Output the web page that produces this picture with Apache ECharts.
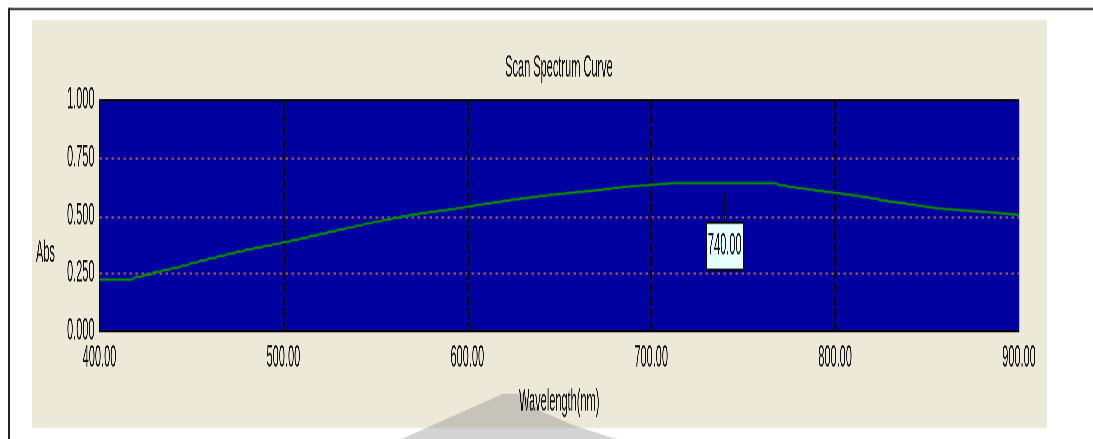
<!DOCTYPE html>
<html>
<head>
<meta charset="utf-8">
<title>Scan Spectrum Curve</title>
<script src="https://cdn.jsdelivr.net/npm/echarts@6/dist/echarts.min.js"></script>
<style>
  html, body { margin: 0; padding: 0; background: #ffffff; overflow: hidden; }
  #chart {
    position: absolute; left: 0; top: 0;
    width: 1093px;
    transform-origin: 0 0;
  }
</style>
</head>
<body>
<div id="chart"></div>
<script>
// Scanned wavelengths (nm) and measured absorbance
const WAVELENGTH_NM = [
  400, 405, 410, 415, 420, 425, 430, 435, 440, 445,
  450, 455, 460, 465, 470, 475, 480, 485, 490, 495,
  500, 505, 510, 515, 520, 525, 530, 535, 540, 545,
  550, 555, 560, 565, 570, 575, 580, 585, 590, 595,
  600, 605, 610, 615, 620, 625, 630, 635, 640, 645,
  650, 655, 660, 665, 670, 675, 680, 685, 690, 695,
  700, 705, 710, 715, 720, 725, 730, 735, 740, 745,
  750, 755, 760, 765, 770, 775, 780, 785, 790, 795,
  800, 805, 810, 815, 820, 825, 830, 835, 840, 845,
  850, 855, 860, 865, 870, 875, 880, 885, 890, 895,
  900
];
const ABSORBANCE = [
  0.224, 0.224, 0.224, 0.224, 0.236, 0.245, 0.256, 0.265, 0.274, 0.285,
  0.296, 0.306, 0.316, 0.326, 0.336, 0.345, 0.354, 0.362, 0.370, 0.378,
  0.386, 0.395, 0.404, 0.413, 0.422, 0.431, 0.440, 0.449, 0.458, 0.467,
  0.475, 0.483, 0.491, 0.498, 0.505, 0.511, 0.517, 0.522, 0.528, 0.534,
  0.540, 0.547, 0.553, 0.559, 0.565, 0.571, 0.576, 0.581, 0.586, 0.591,
  0.595, 0.599, 0.603, 0.607, 0.611, 0.616, 0.621, 0.625, 0.628, 0.631,
  0.634, 0.638, 0.641, 0.641, 0.641, 0.641, 0.641, 0.641, 0.641, 0.641,
  0.641, 0.641, 0.641, 0.641, 0.631, 0.624, 0.619, 0.614, 0.608, 0.603,
  0.598, 0.592, 0.587, 0.581, 0.574, 0.566, 0.560, 0.555, 0.549, 0.543,
  0.537, 0.532, 0.528, 0.525, 0.522, 0.519, 0.516, 0.513, 0.509, 0.506,
  0.503
];
// Cursor marker placed on the curve
const MARKER_NM = 740;
const MARKER_ABS = 0.641;

// Axis ranges
const X_MIN = 400, X_MAX = 900, X_STEP = 100;
const Y_MIN = 0, Y_MAX = 1, Y_STEP = 0.25;

// The whole panel is laid out in a short canvas and stretched vertically,
// giving the tall narrow lettering of the instrument software.
const S = 2.8;
const PAGE_H = 439;
const Y = v => v / S;

const FONT = "'Liberation Sans', Arial, sans-serif";
const el = document.getElementById('chart');
el.style.height = Y(PAGE_H) + 'px';
el.style.transform = 'scaleY(' + S + ')';

const chart = echarts.init(el, null, {
  renderer: 'canvas', devicePixelRatio: 3, width: 1093, height: Y(PAGE_H)
});

const seriesData = WAVELENGTH_NM.map((w, i) => [w, ABSORBANCE[i]]);

const option = {
  backgroundColor: '#ffffff',
  animation: false,
  title: {
    text: 'Scan Spectrum Curve',
    left: 559, top: Y(53), padding: 0, textAlign: 'center',
    textStyle: { fontFamily: FONT, fontSize: 11, fontWeight: 'normal', color: '#111' }
  },
  graphic: [
    // window frame
    { type: 'rect', z: -3, shape: { x: 8, y: Y(8), width: 1093, height: Y(2) }, style: { fill: '#222' } },
    { type: 'rect', z: -3, shape: { x: 8, y: Y(8), width: 2, height: Y(440) }, style: { fill: '#222' } },
    // dialog face
    { type: 'rect', z: -2, shape: { x: 32, y: Y(20), width: 1015, height: Y(407) }, style: { fill: '#ECE9D8' } },
    // faint emblem at the foot of the panel
    {
      type: 'polygon', z: -1,
      shape: { points: [[397, Y(440)], [440, Y(421)], [503, Y(393)], [522, Y(393)], [540, Y(410)], [575, Y(425)], [622, Y(440)]] },
      style: { fill: 'rgba(110,110,110,0.3)' }
    },
    // y axis caption
    {
      type: 'text', z: 5,
      style: { text: 'Abs', x: 36, y: Y(253), verticalAlign: 'middle', font: '11px ' + FONT, fill: '#111' }
    }
  ],
  grid: {
    left: 99.5, right: 74, top: Y(100), bottom: Y(PAGE_H - 330.5),
    show: true, backgroundColor: '#0000A0', borderColor: '#000', borderWidth: 0.8
  },
  xAxis: {
    type: 'value', min: X_MIN, max: X_MAX, interval: X_STEP,
    name: 'Wavelength(nm)', nameLocation: 'middle', nameGap: 16.5,
    nameTextStyle: { fontFamily: FONT, fontSize: 11, color: '#111' },
    axisLine: { show: false }, axisTick: { show: false },
    axisLabel: { margin: 4, fontFamily: FONT, fontSize: 11, color: '#111', formatter: v => v.toFixed(2) },
    splitLine: {
      show: true, showMinLine: false, showMaxLine: false,
      lineStyle: { color: '#000', width: 1.6, type: [Y(10), Y(3)] }
    }
  },
  yAxis: {
    type: 'value', min: Y_MIN, max: Y_MAX, interval: Y_STEP,
    axisLine: { show: false }, axisTick: { show: false },
    axisLabel: { margin: 5, fontFamily: FONT, fontSize: 11, color: '#111', formatter: v => v.toFixed(3) },
    splitLine: {
      show: true, showMinLine: false, showMaxLine: false,
      lineStyle: { color: '#94506A', width: Y(2.2), type: [2.5, 3.5] }
    }
  },
  series: [
    {
      type: 'line', data: seriesData, step: 'middle', symbol: 'none',
      lineStyle: { color: '#008A00', width: Y(2.5) }, z: 3
    },
    {
      type: 'custom', z: 4,
      data: [[MARKER_NM, MARKER_ABS]],
      renderItem: (params, api) => {
        const p = api.coord([api.value(0), api.value(1)]);
        const x = p[0], y = p[1];
        const lineTop = y + Y(9.5), boxTop = y + Y(39.5), boxH = Y(47);
        return {
          type: 'group',
          children: [
            { type: 'line', shape: { x1: x, y1: lineTop, x2: x, y2: boxTop }, style: { stroke: '#000', lineWidth: 1 } },
            { type: 'rect', shape: { x: x - 18.5, y: boxTop, width: 37, height: boxH }, style: { fill: '#E6FFFF', stroke: '#000', lineWidth: 0.8 } },
            { type: 'text', style: { text: api.value(0).toFixed(2), x: x, y: boxTop + boxH / 2, align: 'center', verticalAlign: 'middle', font: '11px ' + FONT, fill: '#111' } }
          ]
        };
      }
    }
  ]
};

chart.setOption(option);
</script>
</body>
</html>
